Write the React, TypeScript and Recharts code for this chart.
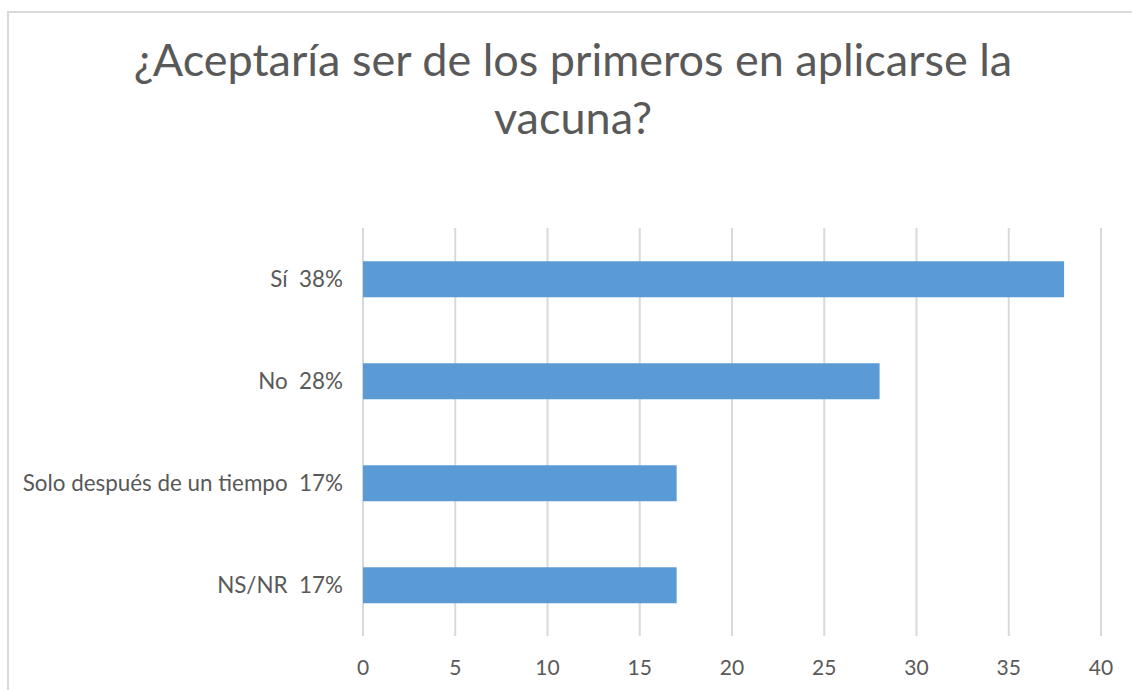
import React from "react";
import { BarChart, Bar, XAxis, YAxis, CartesianGrid } from "recharts";

const categories = [
  "Sí\u00a0\u00a038%",
  "No\u00a0\u00a028%",
  "Solo después de un tiempo\u00a0\u00a017%",
  "NS/NR\u00a0\u00a017%",
];
const values = [38, 28, 17, 17];
const xTicks = [0, 5, 10, 15, 20, 25, 30, 35, 40];
const titleLines = ["¿Aceptaría ser de los primeros en aplicarse la", "vacuna?"];

const data = categories.map((c, i) => ({ name: c, value: values[i] }));

const FONT = "Lato, 'Open Sans', sans-serif";
const GRAY = "#595959";

export default function App() {
  return (
    <div style={{ position: "absolute", left: 0, top: 0, width: 1132, height: 690, overflow: "hidden", background: "#fff" }}>
      <div
        style={{
          position: "absolute",
          left: 7,
          top: 11,
          width: 1300,
          height: 800,
          borderLeft: "2px solid #d9d9d9",
          borderTop: "2px solid #d9d9d9",
        }}
      />
      <div
        style={{
          position: "absolute",
          left: 0,
          top: 30,
          width: 1146,
          textAlign: "center",
          fontFamily: FONT,
          fontSize: 45,
          lineHeight: "58px",
          color: GRAY,
        }}
      >
        {titleLines[0]}
        <br />
        {titleLines[1]}
      </div>
      <div style={{ position: "absolute", left: 0, top: 0 }}>
        <BarChart
          width={1132}
          height={690}
          data={data}
          layout="vertical"
          margin={{ top: 228, right: 31, bottom: 24, left: 0 }}
          barCategoryGap="32.5%"
        >
          <CartesianGrid horizontal={false} vertical={true} stroke="#d9d9d9" strokeWidth={2} />
          <XAxis
            type="number"
            domain={[0, 40]}
            ticks={xTicks}
            axisLine={false}
            tickLine={false}
            tickSize={0}
            tickMargin={24}
            height={30}
            tick={{ fill: GRAY, fontSize: 21, fontFamily: FONT }}
          />
          <YAxis
            type="category"
            dataKey="name"
            width={363}
            axisLine={false}
            tickLine={false}
            tickSize={0}
            tickMargin={20}
            tick={{ fill: GRAY, fontSize: 22.4, fontFamily: FONT }}
          />
          <Bar dataKey="value" fill="#5b9bd5" isAnimationActive={false} />
        </BarChart>
      </div>
    </div>
  );
}
